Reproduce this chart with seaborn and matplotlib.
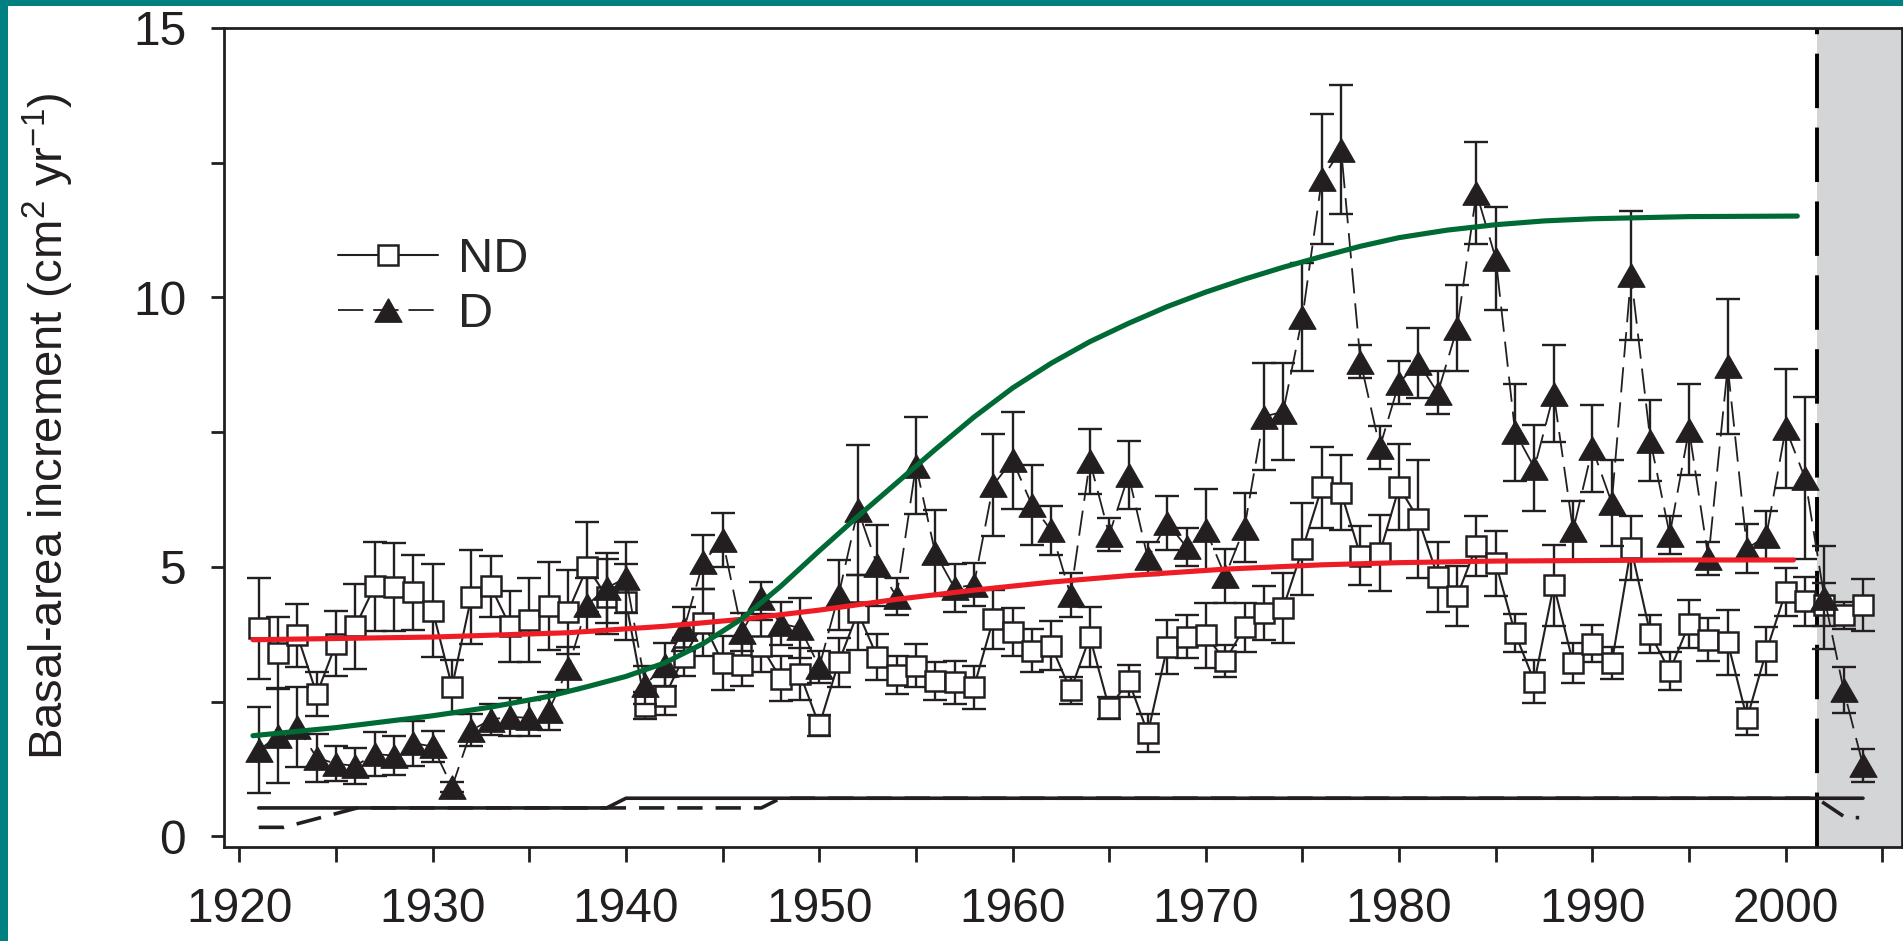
import matplotlib
matplotlib.use("Agg")
import matplotlib.pyplot as plt
from matplotlib.patches import Rectangle
from matplotlib.lines import Line2D
from matplotlib.ticker import MultipleLocator
import pandas as pd
import seaborn as sns

# ---------------------------------------------------------------- data
years = list(range(1921, 2005))

# basal-area increment, non-defoliated trees (cm2 / yr) and standard errors
nd_bai = [3.86, 3.41, 3.73, 2.64, 3.58, 3.90, 4.64, 4.63, 4.53, 4.19,
          2.78, 4.45, 4.64, 3.90, 4.01, 4.28, 4.17, 5.00, 4.45, 4.35,
          2.43, 2.60, 3.33, 3.97, 3.22, 3.19, 3.53, 2.93, 3.02, 2.06,
          3.23, 4.16, 3.33, 3.00, 3.17, 2.89, 2.86, 2.77, 4.03, 3.79,
          3.45, 3.54, 2.71, 3.70, 2.38, 2.89, 1.92, 3.51, 3.71, 3.73,
          3.26, 3.88, 4.14, 4.24, 5.33, 6.48, 6.38, 5.21, 5.26, 6.48,
          5.89, 4.82, 4.46, 5.39, 5.07, 3.77, 2.87, 4.66, 3.22, 3.58,
          3.22, 5.35, 3.75, 3.07, 3.94, 3.65, 3.60, 2.19, 3.44, 4.54,
          4.36, 4.30, 4.10, 4.30]
nd_se = [0.93, 0.66, 0.58, 0.41, 0.60, 0.79, 0.83, 0.82, 0.70, 0.86,
         0.50, 0.87, 0.56, 0.66, 0.78, 0.82, 0.78, 0.84, 0.70, 0.70,
         0.25, 0.35, 0.35, 0.62, 0.50, 0.40, 0.48, 0.42, 0.48, 0.20,
         0.45, 0.70, 0.42, 0.35, 0.40, 0.35, 0.40, 0.40, 0.55, 0.45,
         0.40, 0.45, 0.25, 0.55, 0.20, 0.30, 0.35, 0.50, 0.40, 0.60,
         0.30, 0.45, 0.50, 0.65, 0.85, 0.75, 0.70, 0.55, 0.70, 0.80,
         1.10, 0.65, 0.55, 0.56, 0.60, 0.35, 0.40, 0.75, 0.37, 0.35,
         0.30, 0.60, 0.35, 0.35, 0.45, 0.40, 0.60, 0.30, 0.45, 0.45,
         0.45, 0.40, 0.25, 0.48]

# basal-area increment, defoliated trees (cm2 / yr) and standard errors
d_bai = [1.60, 1.87, 2.03, 1.46, 1.35, 1.31, 1.53, 1.50, 1.73, 1.67,
         0.92, 1.97, 2.17, 2.22, 2.20, 2.33, 3.12, 4.30, 4.61, 4.80,
         2.81, 3.19, 3.85, 5.10, 5.50, 3.80, 4.42, 3.95, 3.87, 3.15,
         4.48, 6.06, 5.03, 4.45, 6.88, 5.26, 4.61, 4.67, 6.52, 6.98,
         6.15, 5.68, 4.48, 6.96, 5.60, 6.70, 5.16, 5.82, 5.37, 5.69,
         4.83, 5.73, 7.79, 7.88, 9.64, 12.20, 12.74, 8.81, 7.22, 8.42,
         8.79, 8.23, 9.43, 11.94, 10.72, 7.50, 6.84, 8.21, 5.68, 7.20,
         6.19, 10.41, 7.34, 5.60, 7.55, 5.16, 8.72, 5.34, 5.58, 7.57,
         6.65, 4.43, 2.72, 1.32]
d_se = [0.80, 0.87, 0.75, 0.45, 0.32, 0.34, 0.40, 0.36, 0.42, 0.28,
        0.10, 0.30, 0.28, 0.35, 0.33, 0.35, 0.40, 0.50, 0.65, 0.66,
        0.35, 0.40, 0.40, 0.50, 0.50, 0.35, 0.30, 0.40, 0.55, 0.30,
        0.65, 1.20, 0.75, 0.35, 0.90, 0.80, 0.45, 0.40, 0.95, 0.90,
        0.75, 0.45, 0.40, 0.60, 0.30, 0.63, 0.30, 0.50, 0.35, 0.75,
        0.50, 0.64, 1.00, 0.90, 1.00, 1.20, 1.20, 0.30, 0.40, 0.40,
        0.65, 0.40, 0.80, 0.95, 0.95, 0.90, 0.80, 0.90, 0.55, 0.80,
        0.80, 1.20, 0.75, 0.35, 0.85, 0.30, 1.26, 0.45, 0.45, 1.10,
        1.50, 0.95, 0.43, 0.30]

# fitted growth curves
fit_nd_years = [1920.7, 1930, 1937, 1942, 1946, 1950, 1954, 1958, 1962,
                1966, 1971, 1976, 1980, 1985, 1990, 1995, 2000.4]
fit_nd = [3.65, 3.70, 3.78, 3.90, 4.03, 4.20, 4.40, 4.57, 4.72,
          4.84, 4.96, 5.04, 5.08, 5.11, 5.12, 5.13, 5.13]

fit_d_years = [1920.7, 1925, 1930, 1933, 1936, 1938, 1940, 1942, 1944,
               1946, 1948, 1950, 1952, 1954, 1956, 1958, 1960, 1962,
               1964, 1966, 1968, 1970, 1972, 1974, 1976, 1978, 1980,
               1982.5, 1985, 1987.5, 1990, 1995, 2000.6]
fit_d = [1.87, 2.02, 2.24, 2.40, 2.60, 2.78, 2.97, 3.22, 3.58,
         4.04, 4.64, 5.30, 5.94, 6.56, 7.18, 7.78, 8.32, 8.78,
         9.18, 9.52, 9.83, 10.10, 10.34, 10.56, 10.76, 10.95, 11.11,
         11.25, 11.35, 11.42, 11.46, 11.50, 11.51]

# sample depth (scaled) for each group
nd_depth_years = [1921, 1939, 1940, 2004]
nd_depth = [0.53, 0.53, 0.71, 0.71]
d_depth_years = [1921, 1922.3, 1926.1, 1947, 1948, 2001.6, 2003.1, 2003.8]
d_depth = [0.17, 0.17, 0.53, 0.53, 0.71, 0.71, 0.35, 0.35]

shade_start = 2001.63

# ---------------------------------------------------------------- style
sns.set_theme(style="ticks")
plt.rcParams["font.family"] = ["Liberation Sans", "DejaVu Sans"]
plt.rcParams["mathtext.fontset"] = "custom"
plt.rcParams["mathtext.rm"] = "Liberation Sans"
plt.rcParams["mathtext.it"] = "Liberation Sans:italic"
plt.rcParams["mathtext.bf"] = "Liberation Sans:bold"

INK = "#231F20"
RED = "#EE1D25"
GREEN = "#006A35"
TEAL = "#008080"
TRI = [(0, 1), (-1.15, -1), (1.15, -1), (0, 1)]

nd_style = dict(color=INK, lw=1.5, marker="s", ms=13.8, mfc="white",
                mec=INK, mew=1.8)
d_style = dict(color=INK, lw=1.3, ls=(0, (14, 5.5)), marker=TRI, ms=19.5,
               mfc=INK, mec=INK, mew=0.8)

fig = plt.figure(figsize=(19.03, 9.41), dpi=100)
fig.patch.set_facecolor("white")
fig.patches.append(Rectangle((0, 0), 8 / 1903, 1, transform=fig.transFigure,
                             color=TEAL, lw=0))
fig.patches.append(Rectangle((0, 1 - 6 / 941), 1, 6 / 941,
                             transform=fig.transFigure, color=TEAL, lw=0))

ax = fig.add_axes([0.1179, 0.0996, 0.8814, 0.8707])
ax.set_facecolor("white")

# shaded recent period
ax.axvspan(shade_start, 2006.2, color="#D4D5D7", lw=0, zorder=0)
ax.axvline(shade_start, color="black", lw=2.8, ls=(0, (14, 5)), zorder=1)

df = pd.DataFrame({"year": years, "ND": nd_bai, "D": d_bai})

# non-defoliated series
ax.errorbar(years, nd_bai, yerr=nd_se, fmt="none", ecolor=INK,
            elinewidth=1.7, capsize=8.3, capthick=1.7, zorder=2)
sns.lineplot(data=df, x="year", y="ND", ax=ax, zorder=3, legend=False,
             **nd_style)

# defoliated series
ax.errorbar(years, d_bai, yerr=d_se, fmt="none", ecolor=INK,
            elinewidth=1.7, capsize=8.3, capthick=1.7, zorder=4)
sns.lineplot(data=df, x="year", y="D", ax=ax, zorder=5, legend=False,
             **d_style)

# sample depth lines
sns.lineplot(x=nd_depth_years, y=nd_depth, color=INK, lw=2.6, ax=ax,
             zorder=6, legend=False)
sns.lineplot(x=d_depth_years, y=d_depth, color=INK, lw=2.6,
             ls=(0, (7, 3.6)), ax=ax, zorder=6, legend=False)

# fitted curves
sns.lineplot(x=fit_nd_years, y=fit_nd, color=RED, lw=3.7, ax=ax,
             zorder=8, legend=False)
sns.lineplot(x=fit_d_years, y=fit_d, color=GREEN, lw=3.7, ax=ax,
             zorder=8, legend=False)

# legend
handles = [Line2D([], [], **nd_style), Line2D([], [], **d_style)]
ax.legend(handles, ["ND", "D"], loc="upper left",
          bbox_to_anchor=(0.068, 0.745), frameon=False, fontsize=35,
          handlelength=2.05, handletextpad=0.4, labelspacing=0.2,
          borderpad=0, borderaxespad=0)

# axes
ax.set_xlim(1919.22, 2006.0)
ax.set_ylim(-0.2, 15.0)
ax.xaxis.set_major_locator(MultipleLocator(10))
ax.xaxis.set_minor_locator(MultipleLocator(5))
ax.yaxis.set_major_locator(MultipleLocator(5))
ax.yaxis.set_minor_locator(MultipleLocator(2.5))
ax.tick_params(axis="both", which="both", direction="out", width=2.0,
               color=INK, labelcolor=INK)
ax.tick_params(axis="x", which="both", length=10.8, pad=18, labelsize=34.5)
ax.tick_params(axis="y", which="both", length=9.5, pad=18, labelsize=34.5)
for side in ["left", "right", "top", "bottom"]:
    ax.spines[side].set_visible(True)
    ax.spines[side].set_linewidth(2.0)
    ax.spines[side].set_color(INK)

ax.set_xlabel("")
ax.set_ylabel(r"Basal-area increment (cm$^{\mathregular{2}}$ yr$^{\mathregular{-1}}$)",
              fontsize=34, color=INK)
ax.yaxis.set_label_coords(-0.105, 0.514)
ax.yaxis.label.set_va("center")

fig.savefig("out.png", dpi=100)
